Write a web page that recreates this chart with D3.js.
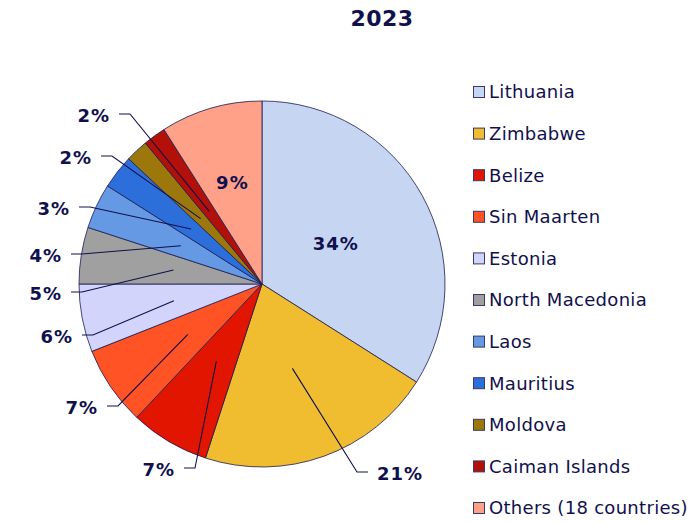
<!DOCTYPE html>
<html>
<head>
<meta charset="utf-8">
<script src="https://cdn.jsdelivr.net/npm/d3@7"></script>
<style>
  body { margin: 0; background: #fff; }
  text { font-family: "DejaVu Sans", Verdana, sans-serif; }
</style>
</head>
<body>
<div id="chart"></div>
<script>
// data
var title = "2023";
var countries = ["Lithuania", "Zimbabwe", "Belize", "Sin Maarten", "Estonia",
                 "North Macedonia", "Laos", "Mauritius", "Moldova", "Caiman Islands",
                 "Others (18 countries)"];
var shares = [34, 21, 7, 7, 6, 5, 4, 3, 2, 2, 9];
var colors = ["#c5d5f2", "#f0bc30", "#e21600", "#ff5325", "#d2d4fc",
              "#a0a0a0", "#6699e4", "#2c6fdb", "#9c780c", "#b21008", "#ffa088"];

// layout
var w = 697, h = 522;
var cx = 262, cy = 284, r = 183;
var ink = "#10104e";
// inside labels: fraction of radius
var inside = {"Lithuania": 0.46, "Others (18 countries)": 0.58};
// outside labels: elbow of the leader line, side of the text
var elbows = {
  "Zimbabwe":        {x: 357, y: 472, side: 1},
  "Belize":          {x: 195, y: 468, side: -1},
  "Sin Maarten":     {x: 118, y: 406, side: -1},
  "Estonia":         {x: 93,  y: 335, side: -1},
  "North Macedonia": {x: 82,  y: 292, side: -1},
  "Laos":            {x: 82,  y: 254, side: -1},
  "Mauritius":       {x: 90,  y: 207, side: -1},
  "Moldova":         {x: 112, y: 156, side: -1},
  "Caiman Islands":  {x: 130, y: 114, side: -1}
};

var svg = d3.select("#chart").append("svg")
    .attr("width", w)
    .attr("height", h);

svg.append("text")
    .attr("x", 382)
    .attr("y", 26)
    .attr("text-anchor", "middle")
    .style("font-size", "22px")
    .style("font-weight", "bold")
    .style("letter-spacing", "0.5px")
    .style("fill", ink)
    .text(title);

var data = countries.map(function(c, i) { return {name: c, value: shares[i], color: colors[i]}; });

var pie = d3.pie().sort(null).value(function(d) { return d.value; });
var arc = d3.arc().innerRadius(0).outerRadius(r);
var arcs = pie(data);

var g = svg.append("g").attr("transform", "translate(" + cx + "," + cy + ")");

g.selectAll("path.slice")
  .data(arcs)
  .enter().append("path")
    .attr("class", "slice")
    .attr("d", arc)
    .attr("fill", function(d) { return d.data.color; })
    .attr("stroke", "#1c1c52")
    .attr("stroke-width", 0.8);

// leader lines + outside labels
var leadArc = d3.arc().innerRadius(r * 0.49).outerRadius(r * 0.49);
arcs.forEach(function(d) {
  var e = elbows[d.data.name];
  if (!e) return;
  var p = leadArc.centroid(d);
  var ex = e.x - cx, ey = e.y - cy;
  var hx = ex + e.side * 11;
  g.append("polyline")
    .attr("points", [[p[0], p[1]], [ex, ey], [hx, ey]].map(function(q) { return q.join(","); }).join(" "))
    .attr("fill", "none")
    .attr("stroke", ink)
    .attr("stroke-width", 1.1);
  g.append("text")
    .attr("x", hx + e.side * 9)
    .attr("y", ey + 1.5)
    .attr("dy", "0.36em")
    .attr("text-anchor", e.side > 0 ? "start" : "end")
    .style("font-size", "18px")
    .style("font-weight", "bold")
    .style("letter-spacing", "1px")
    .style("fill", ink)
    .text(d.data.value + "%");
});

// inside labels
arcs.forEach(function(d) {
  var f = inside[d.data.name];
  if (!f) return;
  var p = d3.arc().innerRadius(r * f).outerRadius(r * f).centroid(d);
  g.append("text")
    .attr("x", p[0])
    .attr("y", p[1])
    .attr("dy", "0.36em")
    .attr("text-anchor", "middle")
    .style("font-size", "18px")
    .style("font-weight", "bold")
    .style("letter-spacing", "1px")
    .style("fill", ink)
    .text(d.data.value + "%");
});

// legend
var ly = d3.scalePoint().domain(countries).range([92, 508]);
var leg = svg.append("g").selectAll("g")
  .data(data)
  .enter().append("g")
    .attr("transform", function(d) { return "translate(473," + ly(d.name) + ")"; });

leg.append("rect")
    .attr("x", 0.5)
    .attr("y", -5.5)
    .attr("width", 11)
    .attr("height", 11)
    .attr("fill", function(d) { return d.color; })
    .attr("stroke", "#3a3a66")
    .attr("stroke-width", 1);

leg.append("text")
    .attr("x", 16)
    .attr("y", 0)
    .attr("dy", "0.36em")
    .style("font-size", "18px")
    .style("letter-spacing", "0.3px")
    .style("fill", ink)
    .text(function(d) { return d.name; });
</script>
</body>
</html>
